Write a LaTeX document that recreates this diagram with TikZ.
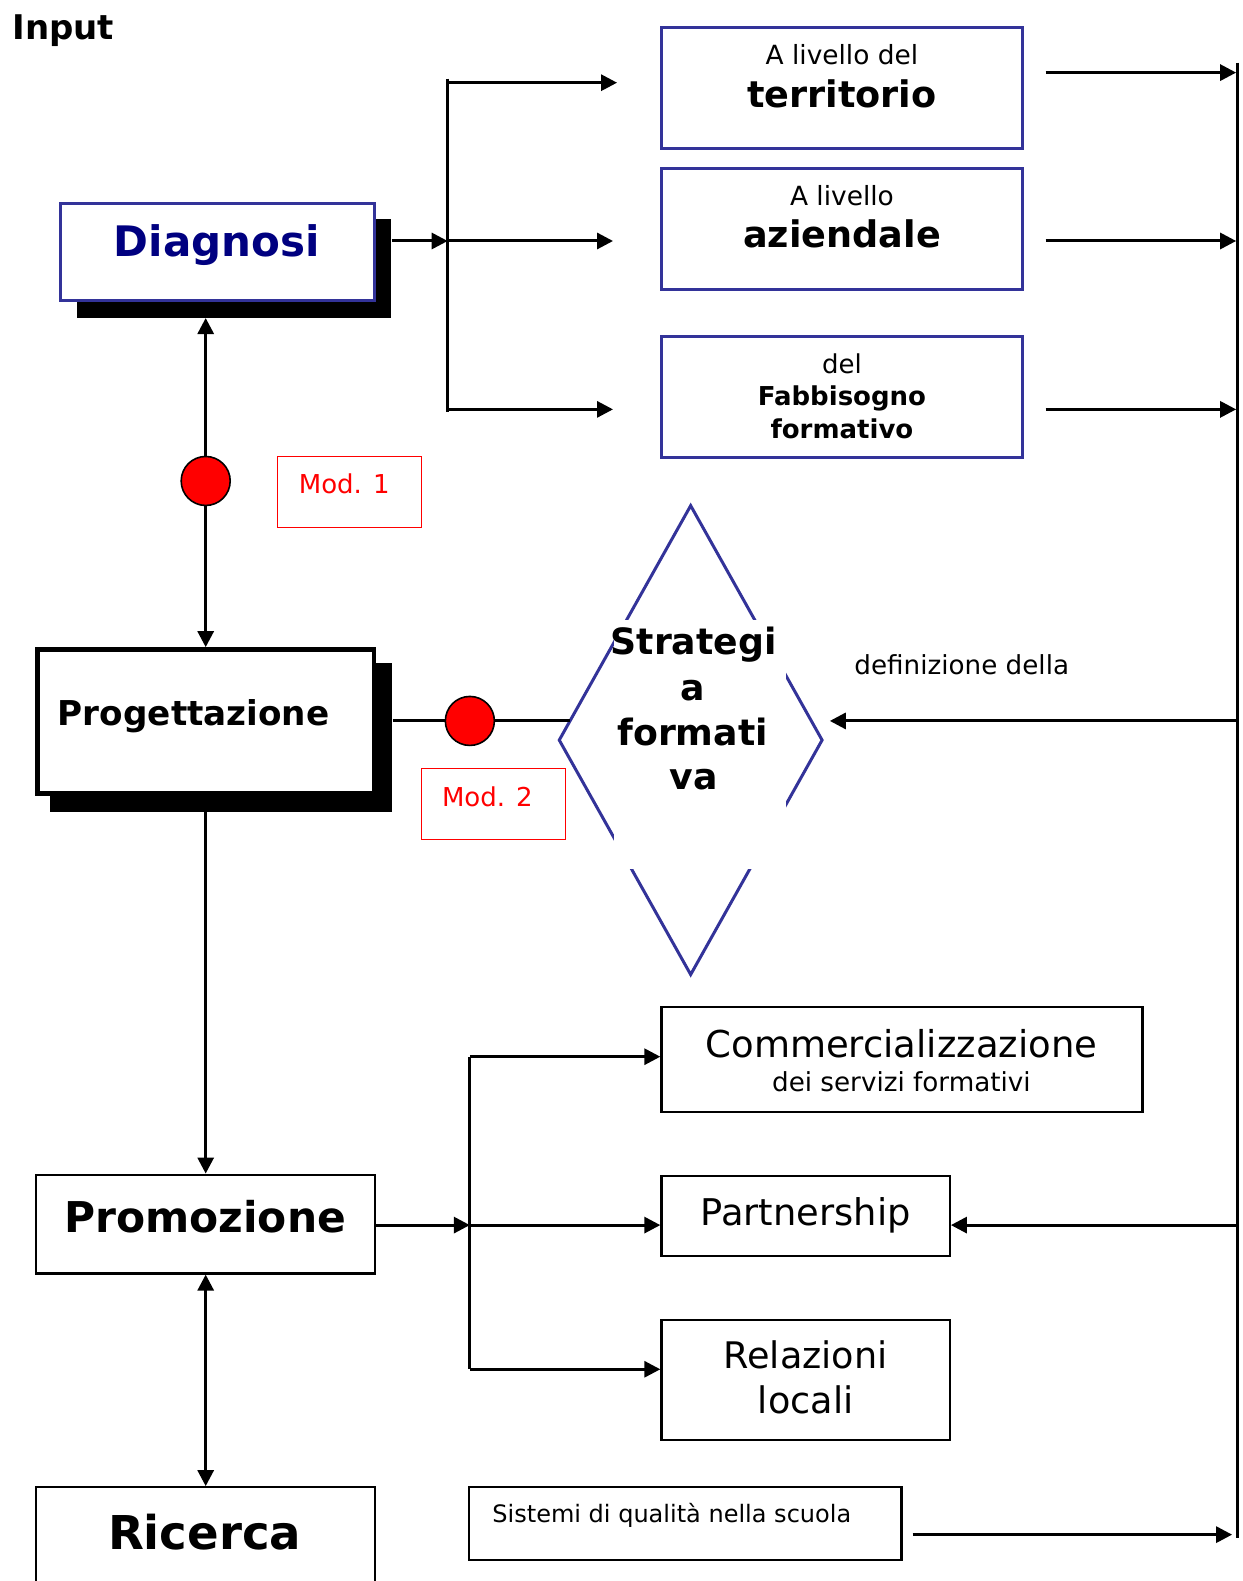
\documentclass[tikz,border=0pt]{standalone}
\usepackage{fontspec}
\setmainfont{DejaVu Sans}
\usetikzlibrary{arrows.meta,shapes.geometric,fit}
\definecolor{myblue}{RGB}{51,51,153}
\definecolor{navy}{RGB}{0,0,128}
\tikzset{
  conn/.style={line width=1.5pt},
  arr/.style={line width=1.5pt,-{Triangle[length=8pt,width=8pt]}},
  darr/.style={line width=1.5pt,{Triangle[length=8pt,width=8pt]}-{Triangle[length=8pt,width=8pt]}},
  bluebox/.style={draw=myblue,line width=1.5pt,fill=white,inner sep=0pt},
  blkbox/.style={draw=black,line width=1.1pt,fill=white,inner sep=0pt},
  thickbox/.style={draw=black,line width=2.2pt,fill=white,inner sep=0pt},
  redbox/.style={draw=red,line width=0.5pt,inner sep=0pt},
  shadowbox/.style={fill=black,inner sep=0pt},
  txt/.style={inner sep=0pt,anchor=base},
  modcirc/.style={circle,fill=red,draw=black,line width=0.8pt,minimum size=24.5pt,inner sep=0pt},
}
\begin{document}
\begin{tikzpicture}[x=0.504pt,y=-0.504pt]
\useasboundingbox (0,0) rectangle (1232,1568);
\fill[white] (0,0) rectangle (1232,1568);
\clip (0,0) rectangle (1232,1568);

% coordinates for routing
\coordinate (v1) at (204,0);
\coordinate (b1t) at (444,78);
\coordinate (b1b) at (444,409);
\coordinate (b1m) at (444,239);
\coordinate (t1) at (444,82);
\coordinate (t1e) at (612,82);
\coordinate (m1e) at (608,239);
\coordinate (bo1) at (444,406);
\coordinate (bo1e) at (608,406);
\coordinate (r1s) at (1037,72);
\coordinate (r1e) at (1226,72);
\coordinate (r2s) at (1037,239);
\coordinate (r2e) at (1226,239);
\coordinate (r3s) at (1037,406);
\coordinate (r3e) at (1226,406);
\coordinate (rt) at (1227,62);
\coordinate (rb) at (1227,1525);
\coordinate (h2) at (0,715);
\coordinate (dle) at (565,715);
\coordinate (dfe) at (823,715);
\coordinate (b2t) at (466,1048);
\coordinate (b2m) at (466,1215);
\coordinate (b2b) at (466,1358);
\coordinate (s1) at (905,1522);
\coordinate (s2) at (1222,1522);

% title
\node[txt,anchor=base west,font=\fontsize{17}{20}\selectfont\bfseries] (input) at (12,39) {Input};

% Diagnosi
\node[shadowbox,fit={(76,217)(388,315)}] (diagsh) {};
\node[bluebox,fit={(60,202)(371,298)}] (diag) {};
\node[txt,font=\fontsize{21}{25}\selectfont\bfseries,text=navy] (diagt) at (215,254) {Diagnosi};

% right boxes top
\node[bluebox,fit={(656,27)(1014,147)}] (terr) {};
\node[txt,font=\fontsize{13.2}{16}\selectfont] (terr1) at (835,64) {A livello del};
\node[txt,font=\fontsize{18.3}{22}\selectfont\bfseries] (terr2) at (835,106.5) {territorio};
\node[bluebox,fit={(656,167)(1014,287)}] (azi) {};
\node[txt,font=\fontsize{13.2}{16}\selectfont] (azi1) at (835,203.5) {A livello};
\node[txt,font=\fontsize{18.3}{22}\selectfont\bfseries] (azi2) at (835,245.5) {aziendale};
\node[bluebox,fit={(656,334)(1014,454)}] (fab) {};
\node[txt,font=\fontsize{13}{16}\selectfont] (fab1) at (835,370.5) {del};
\node[txt,font=\fontsize{13}{16}\selectfont\bfseries] (fab2) at (835,402.5) {Fabbisogno};
\node[txt,font=\fontsize{13}{16}\selectfont\bfseries] (fab3) at (835,435) {formativo};

% Progettazione
\node[shadowbox,fit={(50,658)(389,805)}] (progsh) {};
\node[thickbox,fit={(37,644)(371,787)}] (prog) {};
\node[txt,anchor=base west,font=\fontsize{17.1}{20}\selectfont\bfseries] (progt) at (57,719.5) {Progettazione};

% Mod boxes
\node[redbox,fit={(275,453)(418,523)}] (mod1) {};
\node[txt,anchor=base west,font=\fontsize{13}{16}\selectfont,text=red] (mod1t) at (296,489.5) {Mod. 1};
\node[redbox,fit={(418,762)(561,833)}] (mod2) {};
\node[txt,anchor=base west,font=\fontsize{13}{16}\selectfont,text=red] (mod2t) at (438,799.5) {Mod. 2};

% diamond
\node[diamond,draw=myblue,line width=1.5pt,fill=white,minimum width=132pt,minimum height=235pt,inner sep=0pt] (dia) at (685,734) {};
\node[fill=white,inner sep=0pt,fit={(609,615)(780,862)}] (stratbg) {};
\node[txt,font=\fontsize{18.1}{22}\selectfont\bfseries] (st1) at (688,649) {Strategi};
\node[txt,font=\fontsize{18.1}{22}\selectfont\bfseries] (st2) at (687,694.5) {a};
\node[txt,font=\fontsize{18.1}{22}\selectfont\bfseries] (st3) at (687,739) {formati};
\node[txt,font=\fontsize{18.1}{22}\selectfont\bfseries] (st4) at (688,783) {va};

\node[txt,anchor=base west,font=\fontsize{13.1}{16}\selectfont] (defin) at (847,669) {definizione della};

% Promozione block
\node[blkbox,fit={(36,1165)(372,1263)}] (prom) {};
\node[txt,font=\fontsize{21.2}{25}\selectfont\bfseries] (promt) at (203.5,1222) {Promozione};
\node[blkbox,fit={(36,1475)(372,1620)}] (ric) {};
\node[txt,font=\fontsize{23.3}{28}\selectfont\bfseries] (rict) at (203,1537) {Ricerca};

\node[blkbox,fit={(656,999)(1133,1103)}] (comm) {};
\node[txt,font=\fontsize{18.5}{22}\selectfont] (comm1) at (894,1049) {Commercializzazione};
\node[txt,font=\fontsize{13.1}{16}\selectfont] (comm2) at (894,1083) {dei servizi formativi};
\node[blkbox,fit={(656,1166)(942,1246)}] (part) {};
\node[txt,font=\fontsize{18.4}{22}\selectfont] (partt) at (799,1215) {Partnership};
\node[blkbox,fit={(656,1309)(942,1428)}] (rel) {};
\node[txt,font=\fontsize{18.3}{22}\selectfont] (rel1) at (799,1357) {Relazioni};
\node[txt,font=\fontsize{18.3}{22}\selectfont] (rel2) at (799,1402) {locali};
\node[blkbox,fit={(465,1475)(894,1547)}] (sis) {};
\node[txt,anchor=base west,font=\fontsize{12}{14}\selectfont] (sist) at (488,1510) {Sistemi di qualità nella scuola};

% connectors top
\draw[arr] (diagsh.east |- b1m) -- (b1m);
\draw[conn] (b1t) -- (b1b);
\draw[arr] (t1) -- (t1e);
\draw[arr] (b1m) -- (m1e);
\draw[arr] (bo1) -- (bo1e);
\draw[arr] (r1s) -- (r1e);
\draw[arr] (r2s) -- (r2e);
\draw[arr] (r3s) -- (r3e);
\draw[conn] (rt) -- (rb);

% left column
\draw[darr] (v1 |- diagsh.south) -- (v1 |- prog.north);
\node[modcirc] (c1) at (204,477) {};
\draw[conn] (progsh.east |- h2) -- (dle);
\node[modcirc] (c2) at (466,715) {};
\draw[arr] (rt |- h2) -- (dfe);
\draw[arr] (v1 |- progsh.south) -- (v1 |- prom.north);
\draw[darr] (v1 |- prom.south) -- (v1 |- ric.north);

% bottom bracket
\draw[arr] (prom.east |- b2m) -- (b2m);
\draw[conn] (b2t) -- (b2b);
\draw[arr] (b2t) -- (comm.west |- b2t);
\draw[arr] (b2m) -- (part.west |- b2m);
\draw[arr] (b2b) -- (rel.west |- b2b);
\draw[arr] (rt |- b2m) -- (part.east |- b2m);
\draw[arr] (s1) -- (s2);
\end{tikzpicture}
\end{document}
